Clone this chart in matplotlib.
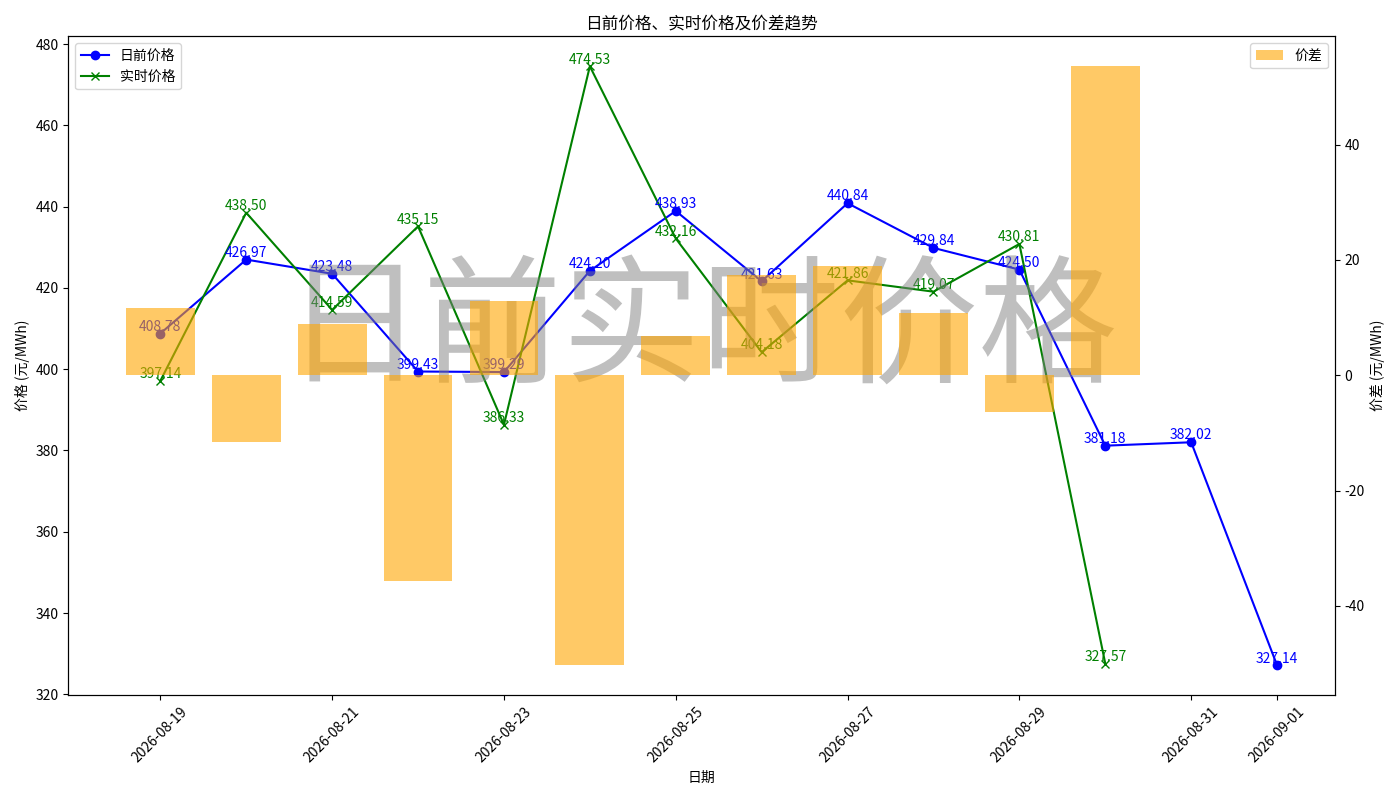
import matplotlib
matplotlib.use('Agg')
import matplotlib.pyplot as plt
import matplotlib.dates as mdates
import numpy as np
import pandas as pd

plt.rcParams['font.family'] = ['Noto Sans CJK SC', 'DejaVu Sans']
plt.rcParams['axes.unicode_minus'] = False

dates = pd.date_range('2026-08-19', '2026-09-01', freq='D')
day_ahead = [408.78, 426.97, 423.48, 399.43, 399.29, 424.20, 438.93,
             421.63, 440.84, 429.84, 424.50, 381.18, 382.02, 327.14]
real_time = [397.14, 438.50, 414.59, 435.15, 386.33, 474.53, 432.16,
             404.18, 421.86, 419.07, 430.81, 327.57, np.nan, np.nan]

da = np.array(day_ahead)
rt = np.array(real_time)
spread = da - rt
ok = ~np.isnan(spread)

fig, ax1 = plt.subplots(figsize=(14, 8), dpi=100)

ax1.plot(dates, da, marker='o', color='blue', label='日前价格')
ax1.plot(dates, rt, marker='x', color='green', label='实时价格')

for d, v in zip(dates, da):
    ax1.annotate(f'{v:.2f}', (d, v), textcoords='offset points', xytext=(0, 2),
                 ha='center', color='blue', fontsize=10)
for d, v in zip(dates, rt):
    if not np.isnan(v):
        ax1.annotate(f'{v:.2f}', (d, v), textcoords='offset points', xytext=(0, 2),
                     ha='center', color='green', fontsize=10)

ax1.set_xlabel('日期')
ax1.set_ylabel('价格 (元/MWh)')
ax1.set_title('日前价格、实时价格及价差趋势')
ax1.legend(loc='upper left')

ax1.text(0.5, 0.55, '日前实时价格', transform=ax1.transAxes, fontsize=100,
         color='gray', alpha=0.5, ha='center', va='center')

ax2 = ax1.twinx()
ax2.bar(dates[ok], spread[ok], width=0.8, color='orange', alpha=0.6, label='价差')
ax2.set_ylabel('价差 (元/MWh)')
ax2.legend(loc='upper right')

ax1.xaxis.set_major_formatter(mdates.DateFormatter('%Y-%m-%d'))
plt.setp(ax1.get_xticklabels(), rotation=45)

plt.tight_layout()
plt.savefig('out.png')
